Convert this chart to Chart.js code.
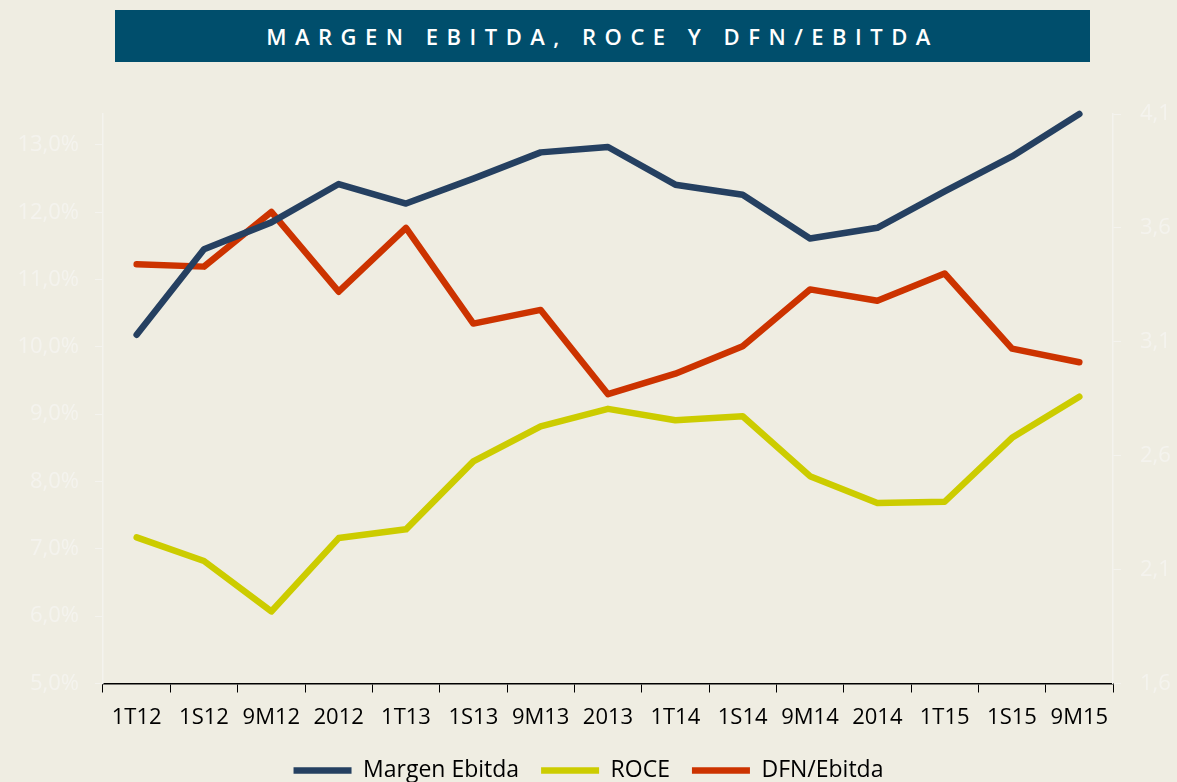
<!DOCTYPE html>
<html>
<head>
<meta charset="utf-8">
<script src="https://cdn.jsdelivr.net/npm/chart.js@4/dist/chart.umd.min.js"></script>
<style>
  html, body { margin: 0; padding: 0; background: #efede2; }
  #wrap { position: relative; width: 1177px; height: 782px; overflow: hidden; }
  #title {
    position: absolute; left: 115px; top: 10px; width: 975px; height: 52px;
    background: #004e6c; color: #fff; text-align: center;
    font: 600 22px "Open Sans", sans-serif; line-height: 52px; letter-spacing: 8.5px;
  }
  canvas { position: absolute; left: 0; top: 0; }
</style>
</head>
<body>
<div id="wrap">
  <canvas id="c" width="1177" height="782"></canvas>
  <div id="title">MARGEN EBITDA, ROCE Y DFN/EBITDA</div>
</div>
<script>
// periods on the x axis
const periods = ["1T12", "1S12", "9M12", "2012", "1T13", "1S13", "9M13", "2013",
                 "1T14", "1S14", "9M14", "2014", "1T15", "1S15", "9M15"];
// left axis, %
const margenEbitda = [10.18, 11.45, 11.85, 12.42, 12.13, 12.50, 12.89, 12.97,
                      12.41, 12.26, 11.61, 11.77, 12.31, 12.83, 13.46];
const roce = [7.17, 6.82, 6.07, 7.16, 7.29, 8.30, 8.82, 9.08,
              8.91, 8.97, 8.08, 7.68, 7.70, 8.65, 9.26];
// right axis, x times
const dfnEbitda = [3.44, 3.43, 3.67, 3.32, 3.60, 3.18, 3.24, 2.87,
                   2.96, 3.08, 3.33, 3.28, 3.40, 3.07, 3.01];
const leftTicks = [5, 6, 7, 8, 9, 10, 11, 12, 13];
const rightTicks = [1.6, 2.1, 2.6, 3.1, 3.6, 4.1];

const FONT = '"Open Sans", sans-serif';
const faint = "#f4f3ee";

const line = (label, data, color, axis) => ({
  label, data, yAxisID: axis,
  borderColor: color, backgroundColor: color,
  borderWidth: 6.5, borderCapStyle: "round", borderJoinStyle: "round",
  pointRadius: 0, tension: 0, clip: false,
});

new Chart(document.getElementById("c"), {
  type: "line",
  data: {
    labels: periods,
    datasets: [
      line("Margen Ebitda", margenEbitda, "#254061", "y"),
      line("ROCE", roce, "#cccc00", "y"),
      line("DFN/Ebitda", dfnEbitda, "#cc3300", "y1"),
    ],
  },
  options: {
    responsive: false, animation: false,
    layout: { padding: { top: 114, left: 0, right: 0, bottom: -10 } },
    plugins: {
      legend: {
        position: "bottom",
        labels: {
          usePointStyle: true, pointStyle: "line", pointStyleWidth: 58,
          color: "#000", padding: 22,
          font: { family: FONT, size: 23 },
        },
      },
      tooltip: { enabled: false },
    },
    scales: {
      x: {
        offset: true,
        border: { color: "#000", width: 1.5 },
        grid: { display: true, drawOnChartArea: false, offset: true, tickLength: 9, color: "#000" },
        ticks: { color: "#000", font: { family: FONT, size: 22 }, padding: 12, maxRotation: 0 },
        afterFit: s => { s.height = 53.5; },
      },
      y: {
        position: "left", min: 5, max: 13.46,
        border: { color: faint, width: 1.5 },
        grid: { drawOnChartArea: false, tickLength: 8, color: faint },
        afterBuildTicks: s => { s.ticks = leftTicks.map(v => ({ value: v })); },
        ticks: { color: faint, font: { family: FONT, size: 22 }, padding: 16,
                 callback: v => v.toFixed(1).replace(".", ",") + "%" },
        afterFit: s => { s.width = 103; },
      },
      y1: {
        position: "right", min: 1.6, max: 4.1,
        border: { color: faint, width: 1.5 },
        grid: { drawOnChartArea: false, tickLength: 8, color: faint },
        afterBuildTicks: s => { s.ticks = rightTicks.map(v => ({ value: v })); },
        ticks: { color: faint, font: { family: FONT, size: 22 }, padding: 19,
                 callback: v => v.toFixed(1).replace(".", ",") },
        afterFit: s => { s.width = 64; },
      },
    },
  },
});
</script>
</body>
</html>
